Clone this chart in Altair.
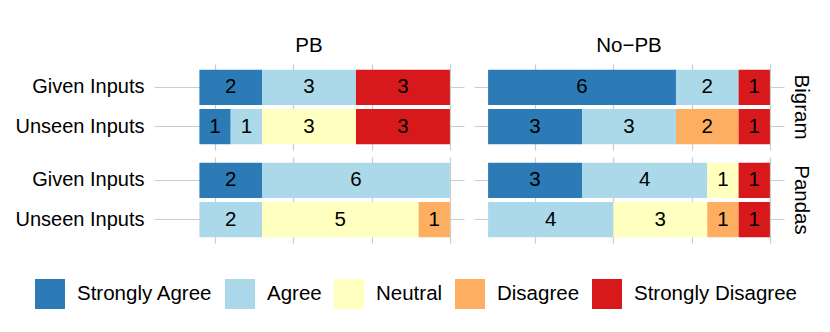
import altair as alt
import pandas as pd

levels = ["Strongly Agree", "Agree", "Neutral", "Disagree", "Strongly Disagree"]
colors = ["#2C7BB6", "#ABD9E9", "#FFFFBF", "#FDAE61", "#D7191C"]
methods = ["PB", "No\u2212PB"]
datasets = ["Bigram", "Pandas"]
inputs = ["Given Inputs", "Unseen Inputs"]

# counts per level: SA, A, N, D, SD
pb_bigram_given = [2, 3, 0, 0, 3]
pb_bigram_unseen = [1, 1, 3, 0, 3]
pb_pandas_given = [2, 6, 0, 0, 0]
pb_pandas_unseen = [0, 2, 5, 1, 0]
nopb_bigram_given = [6, 2, 0, 0, 1]
nopb_bigram_unseen = [3, 3, 0, 2, 1]
nopb_pandas_given = [3, 4, 1, 0, 1]
nopb_pandas_unseen = [0, 4, 3, 1, 1]

groups = [
    ("PB", "Bigram", "Given Inputs", pb_bigram_given),
    ("PB", "Bigram", "Unseen Inputs", pb_bigram_unseen),
    ("PB", "Pandas", "Given Inputs", pb_pandas_given),
    ("PB", "Pandas", "Unseen Inputs", pb_pandas_unseen),
    ("No\u2212PB", "Bigram", "Given Inputs", nopb_bigram_given),
    ("No\u2212PB", "Bigram", "Unseen Inputs", nopb_bigram_unseen),
    ("No\u2212PB", "Pandas", "Given Inputs", nopb_pandas_given),
    ("No\u2212PB", "Pandas", "Unseen Inputs", nopb_pandas_unseen),
]

rows = []
for m, d, i, vals in groups:
    for k, (lev, v) in enumerate(zip(levels, vals)):
        if v > 0:
            rows.append({"method": m, "dataset": d, "input": i, "level": lev, "ord": k, "count": v})
df = pd.DataFrame(rows)

FONT = "Liberation Sans"
GRID = "#CCCCCC"

base = alt.Chart(df).transform_stack(
    stack="count",
    groupby=["method", "dataset", "input"],
    as_=["x0", "x1"],
    sort=[alt.SortField("ord", order="descending")],
).transform_calculate(mid="(datum.x0 + datum.x1) / 2")

xscale = alt.Scale(domain=[-0.45, 9.45], reverse=True, nice=False, zero=False)
yscale = alt.Scale(domain=inputs, paddingInner=0.1, paddingOuter=0.15)

bars = base.mark_bar(strokeWidth=0).encode(
    x=alt.X("x0:Q", scale=xscale,
            axis=alt.Axis(values=[0, 2.5, 5, 7.5], labels=False, ticks=False, domain=False,
                          title=None, grid=True, gridColor=GRID, gridWidth=1.2)),
    x2="x1:Q",
    y=alt.Y("input:N", scale=yscale,
            axis=alt.Axis(title=None, ticks=False, domain=False, grid=True, gridColor=GRID,
                          gridWidth=1.2, bandPosition=0.5, labelFontSize=20, labelColor="black",
                          labelPadding=10, labelFont=FONT)),
    color=alt.Color("level:N", scale=alt.Scale(domain=levels, range=colors),
                    legend=alt.Legend(title=None, orient="none", direction="horizontal",
                                      legendX=-119, legendY=215, symbolType="square",
                                      symbolSize=900, symbolStrokeWidth=0, labelFontSize=20.5,
                                      labelFont=FONT, labelColor="black", labelOffset=12,
                                      labelLimit=400, columnPadding=12, columns=5)),
)

labels = base.mark_text(fontSize=20.5, font=FONT, color="black", align="center",
                        baseline="middle").encode(
    x=alt.X("mid:Q", scale=xscale),
    y=alt.Y("input:N", scale=yscale),
    text="count:Q",
)

chart = alt.layer(bars, labels).properties(width=310, height=86).facet(
    row=alt.Row("dataset:N", sort=datasets,
                header=alt.Header(title=None, labelOrient="right", labelAngle=90,
                                  labelFontSize=20.5, labelFont=FONT, labelColor="black",
                                  labelPadding=6)),
    column=alt.Column("method:N", sort=methods,
                      header=alt.Header(title=None, labelOrient="top", labelFontSize=20.5,
                                        labelFont=FONT, labelColor="black", labelPadding=8)),
    spacing={"row": 7, "column": 10},
).properties(
    padding={"left": 7, "top": 27, "right": 10, "bottom": 0}
).configure(font=FONT).configure_view(stroke=None)

chart.save("out.html", embed_options={"renderer": "svg", "actions": False})
